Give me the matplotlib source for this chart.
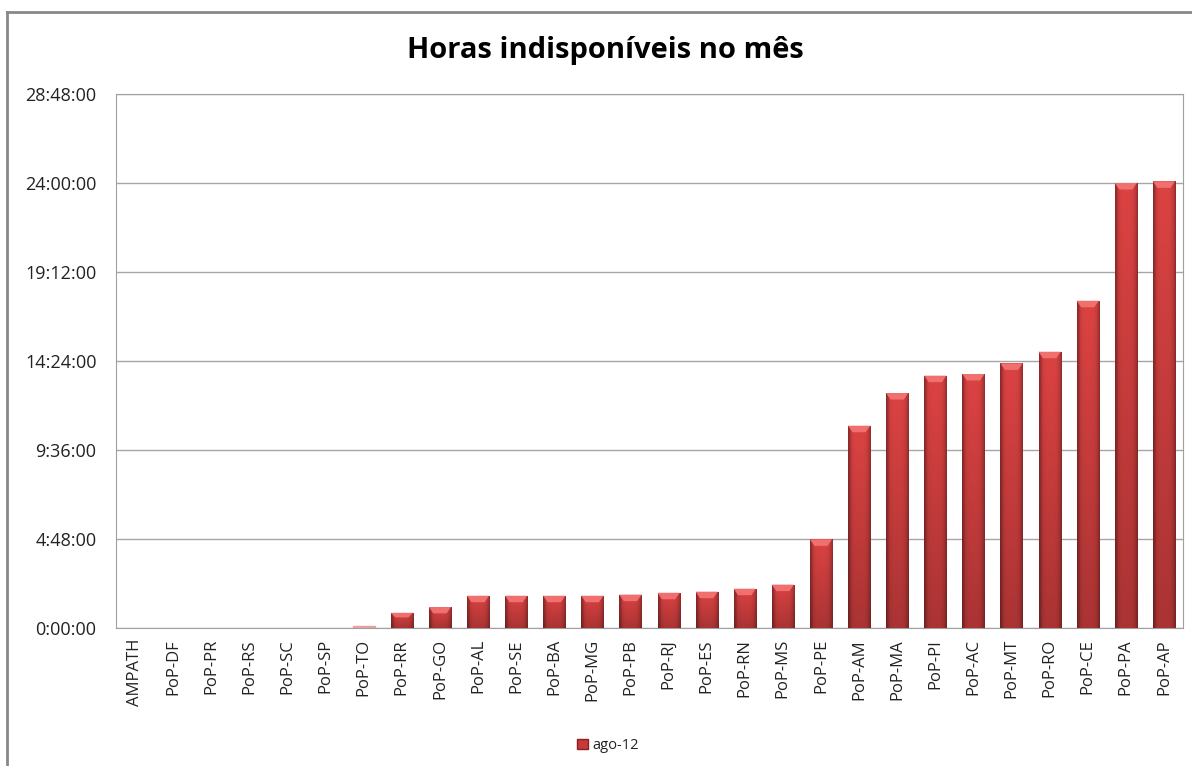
import numpy as np
import matplotlib.pyplot as plt
from matplotlib.patches import Patch
from matplotlib.lines import Line2D
from matplotlib.ticker import FuncFormatter, MultipleLocator

# PoPs and unavailable hours in the month (ago-12)
pops = ['AMPATH', 'PoP-DF', 'PoP-PR', 'PoP-RS', 'PoP-SC', 'PoP-SP', 'PoP-TO',
        'PoP-RR', 'PoP-GO', 'PoP-AL', 'PoP-SE', 'PoP-BA', 'PoP-MG', 'PoP-PB',
        'PoP-RJ', 'PoP-ES', 'PoP-RN', 'PoP-MS', 'PoP-PE', 'PoP-AM', 'PoP-MA',
        'PoP-PI', 'PoP-AC', 'PoP-MT', 'PoP-RO', 'PoP-CE', 'PoP-PA', 'PoP-AP']
hours = [0, 0, 0, 0, 0, 0, 0.11,
         0.82, 1.13, 1.74, 1.74, 1.74, 1.74, 1.80,
         1.90, 1.96, 2.12, 2.34, 4.78, 10.91, 12.67,
         13.61, 13.70, 14.27, 14.90, 17.65, 24.0, 24.09]
series_name = 'ago-12'

plt.rcParams['font.family'] = ['Open Sans', 'DejaVu Sans']

fig = plt.figure(figsize=(11.92, 7.66), dpi=100)
ax = fig.add_axes([116 / 1192, 138 / 766, 1067 / 1192, 534 / 766])

x = np.arange(len(pops))
bars = ax.bar(x, hours, width=0.58, color='#c83a3a', zorder=2)

# fake the Excel shaded-cylinder look with a gradient clipped to each bar
nx = 64
prof = np.linspace(-1, 1, nx)
shade = 1 - 0.35 * prof ** 4
shade[: nx // 8] *= 0.92
grad = np.zeros((32, nx, 3))
vert = np.linspace(0.78, 1.0, 32)[:, None]
base = np.array([0.86, 0.26, 0.26])
for c in range(3):
    grad[:, :, c] = np.clip(base[c] * shade[None, :] * vert, 0, 1)
for b in bars:
    h = b.get_height()
    if h <= 0:
        continue
    x0 = b.get_x()
    w = b.get_width()
    if h < 0.2:
        b.set_color('#e8a0a0')
        continue
    im = ax.imshow(grad, extent=[x0, x0 + w, 0, h], origin='lower',
                   aspect='auto', zorder=3, interpolation='bilinear')
    im.set_clip_path(b)
    # lighter bevel on top
    cap = min(0.35, h * 0.3)
    ax.fill([x0, x0 + w, x0 + w - w * 0.2, x0 + w * 0.2],
            [h, h, h - cap, h - cap], color='#f07070', zorder=4, lw=0)

ax.set_xlim(-0.5, len(pops) - 0.5)
ax.set_ylim(0, 28.8)
ax.yaxis.set_major_locator(MultipleLocator(4.8))


def hms(v, pos):
    s = int(round(v * 3600))
    return '%d:%02d:%02d' % (s // 3600, (s % 3600) // 60, s % 60)


ax.yaxis.set_major_formatter(FuncFormatter(hms))
ax.grid(axis='y', color='#a6a6a6', lw=1, zorder=0)
ax.set_axisbelow(True)
for sp in ax.spines.values():
    sp.set_color('#a0a0a0')
ax.set_xticks(x)
ax.set_xticklabels(pops, rotation=90, fontsize=12, color='#222222')
ax.tick_params(axis='x', length=0, pad=8)
ax.tick_params(axis='y', length=0, pad=14, labelsize=13, labelcolor='#222222')

fig.text(0.508, 0.934, 'Horas indisponíveis no mês', ha='center', va='center',
         fontsize=21, fontweight='bold')

handle = Patch(facecolor='#c83a3a', edgecolor='#8a2020')
fig.legend([handle], [series_name], loc='center', bbox_to_anchor=(0.51, 0.027),
           frameon=False, fontsize=10.5, handlelength=0.7, handleheight=0.7,
           handletextpad=0.3, labelcolor='#222222')

# outer chart border (left and top visible)
fig.add_artist(Line2D([7 / 1192, 7 / 1192], [0, 1 - 12 / 766],
                      color='#888888', lw=2, transform=fig.transFigure))
fig.add_artist(Line2D([7 / 1192, 1], [1 - 12 / 766, 1 - 12 / 766],
                      color='#888888', lw=2, transform=fig.transFigure))

fig.savefig('out.png', dpi=100)
